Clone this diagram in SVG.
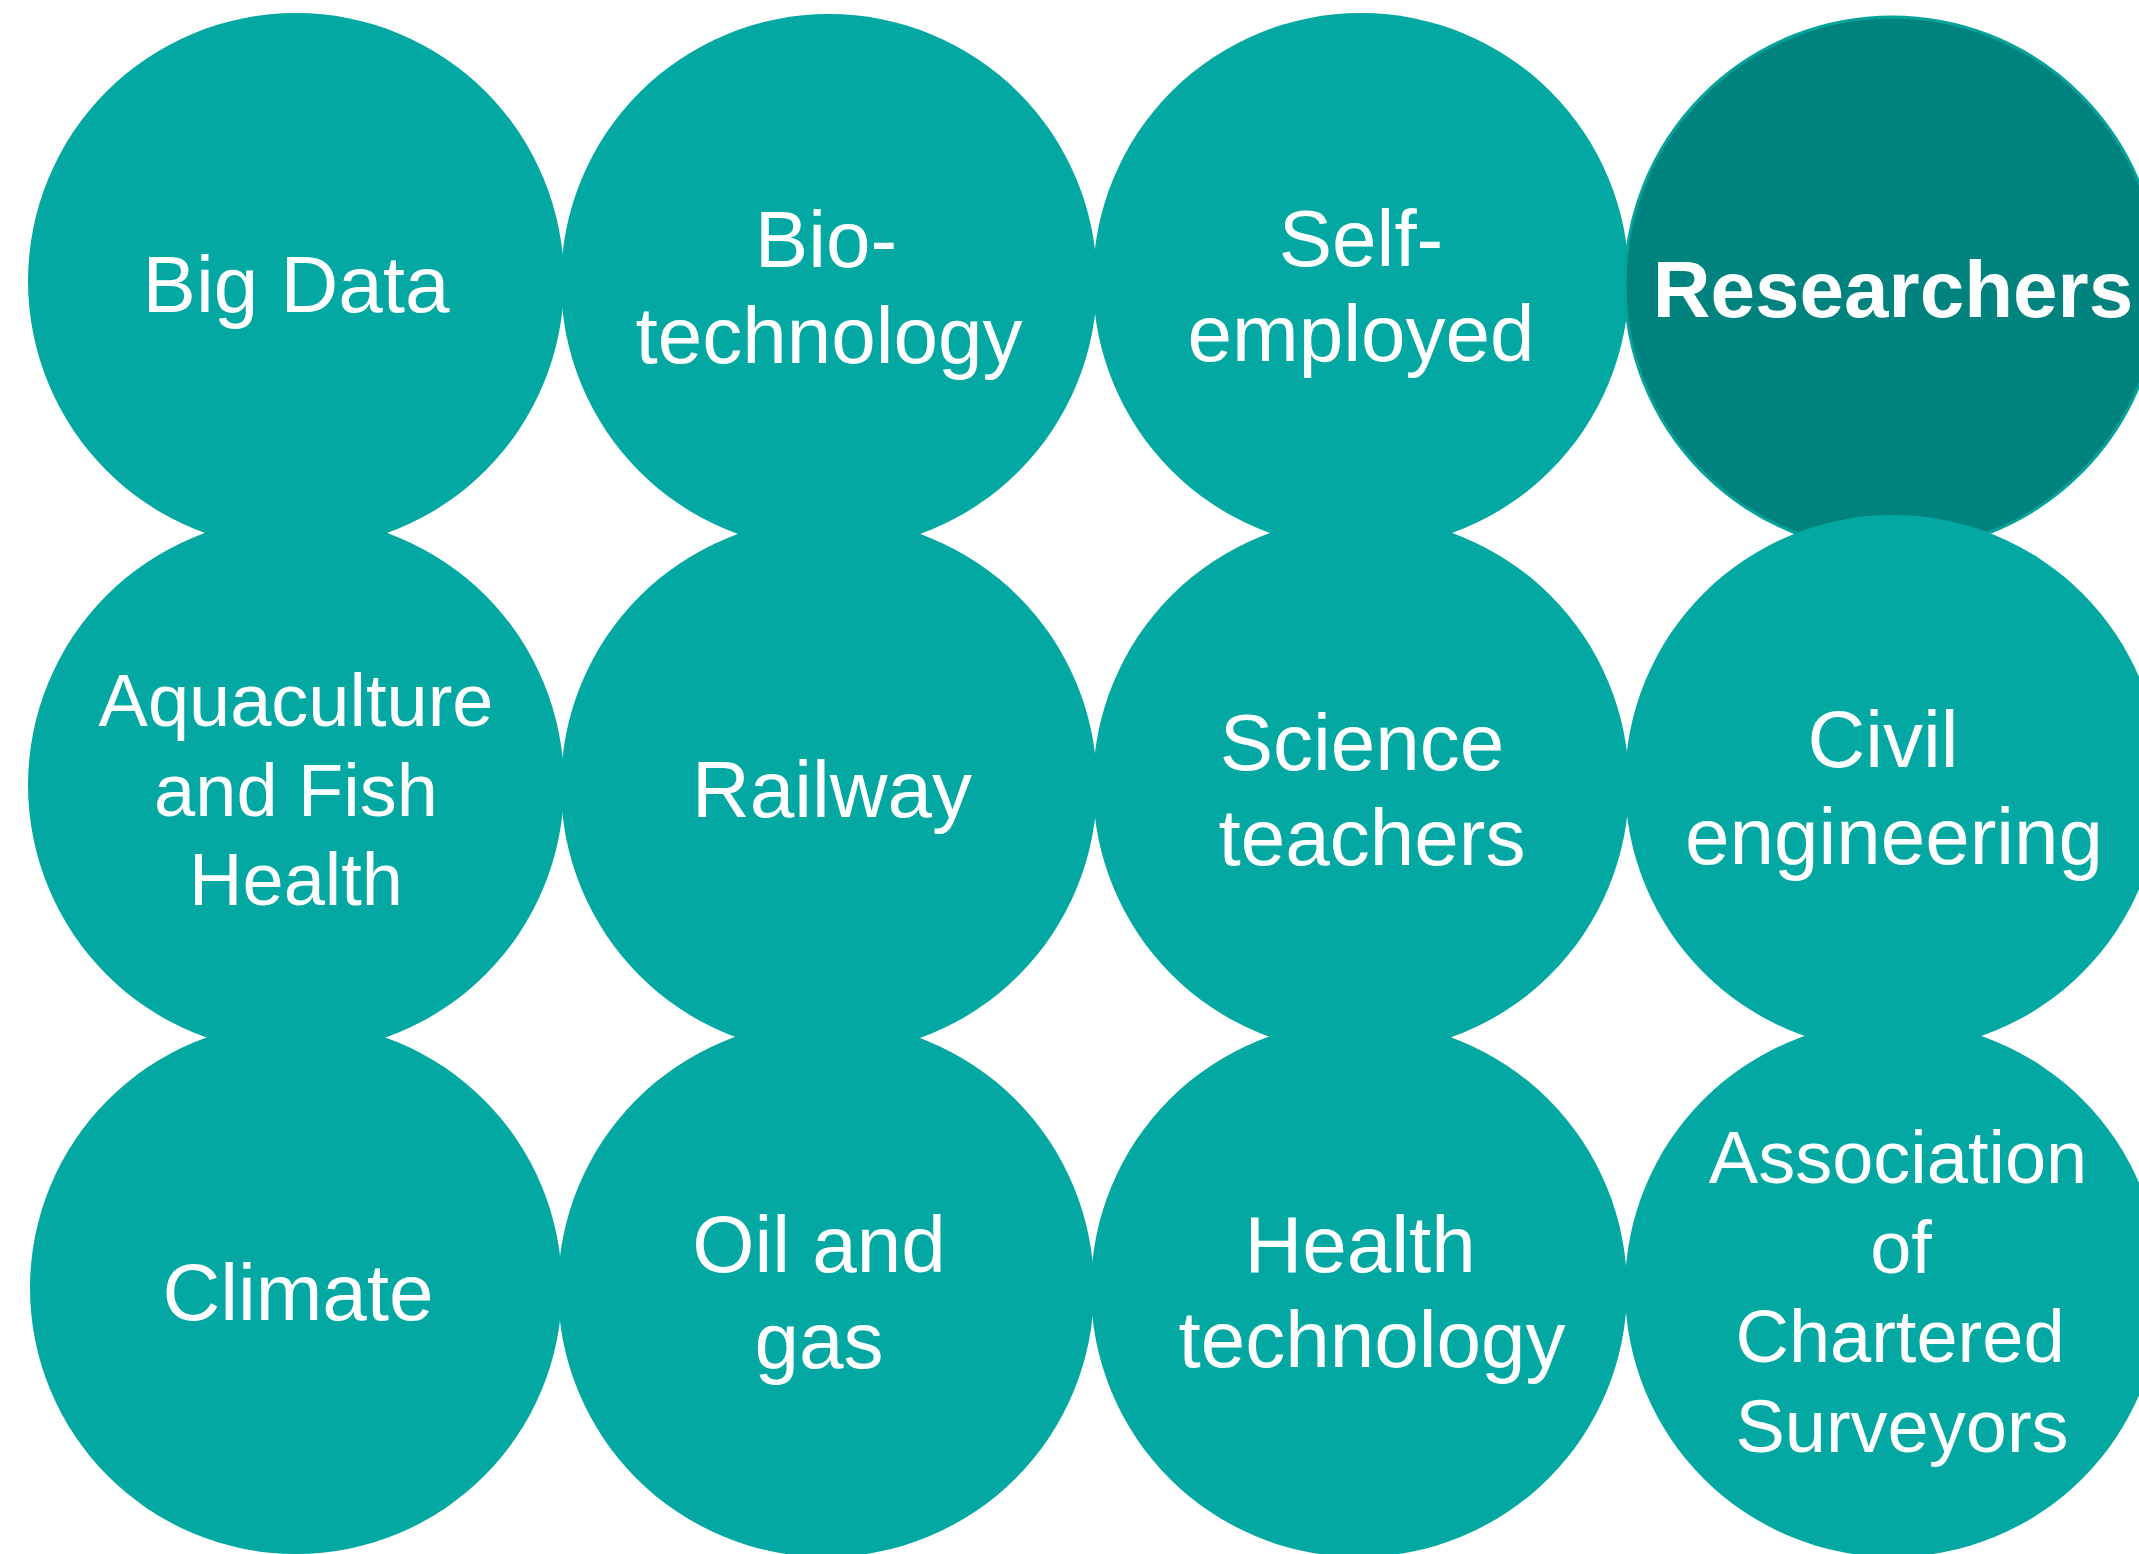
<svg xmlns="http://www.w3.org/2000/svg" width="2139" height="1554" viewBox="0 0 2139 1554">
<style>
.c{fill:#02A8A1}
.d{fill:#00837F;stroke:#05A39C;stroke-width:3}
text{font-family:"Liberation Sans",Arial,sans-serif;fill:#fff;text-anchor:middle;font-size:80px}
.b{font-weight:bold}
.s{font-size:74px}
</style>
<rect width="2139" height="1554" fill="#fff"/>
<g id="big-data"><circle class="c" cx="296" cy="281" r="268"/><text x="296" y="312">Big Data</text></g>
<g id="biotechnology"><circle class="c" cx="829" cy="282" r="268"/><text x="826" y="267">Bio-</text><text x="829" y="363">technology</text></g>
<g id="self-employed"><circle class="c" cx="1361" cy="281" r="268"/><text x="1361" y="266">Self-</text><text x="1361" y="361">employed</text></g>
<g id="researchers"><circle class="d" cx="1892" cy="284" r="267"/><text class="b" x="1893" y="317">Researchers</text></g>
<g id="aquaculture"><circle class="c" cx="296" cy="785" r="268"/><text class="s" x="296" y="726">Aquaculture</text><text class="s" x="296" y="816">and Fish</text><text class="s" x="296" y="905">Health</text></g>
<g id="railway"><circle class="c" cx="829" cy="786" r="268"/><text x="832" y="817">Railway</text></g>
<g id="science-teachers"><circle class="c" cx="1361" cy="785" r="268"/><text x="1362" y="770">Science</text><text x="1372" y="865">teachers</text></g>
<g id="civil-engineering"><circle class="c" cx="1893" cy="783" r="268"/><text x="1883" y="767">Civil</text><text x="1894" y="864">engineering</text></g>
<g id="climate"><circle class="c" cx="296" cy="1288" r="266"/><text x="298" y="1320">Climate</text></g>
<g id="oil-gas"><circle class="c" cx="826" cy="1289" r="268"/><text x="819" y="1272">Oil and</text><text x="819" y="1368">gas</text></g>
<g id="health-technology"><circle class="c" cx="1359" cy="1289" r="268"/><text x="1360" y="1272">Health</text><text x="1372" y="1367">technology</text></g>
<g id="rics"><circle class="c" cx="1893" cy="1289" r="268"/><text class="s" x="1898" y="1183">Association</text><text class="s" x="1901" y="1273">of</text><text class="s" x="1900" y="1362">Chartered</text><text class="s" x="1902" y="1452">Surveyors</text></g>
<g id="connectors"/>
</svg>
